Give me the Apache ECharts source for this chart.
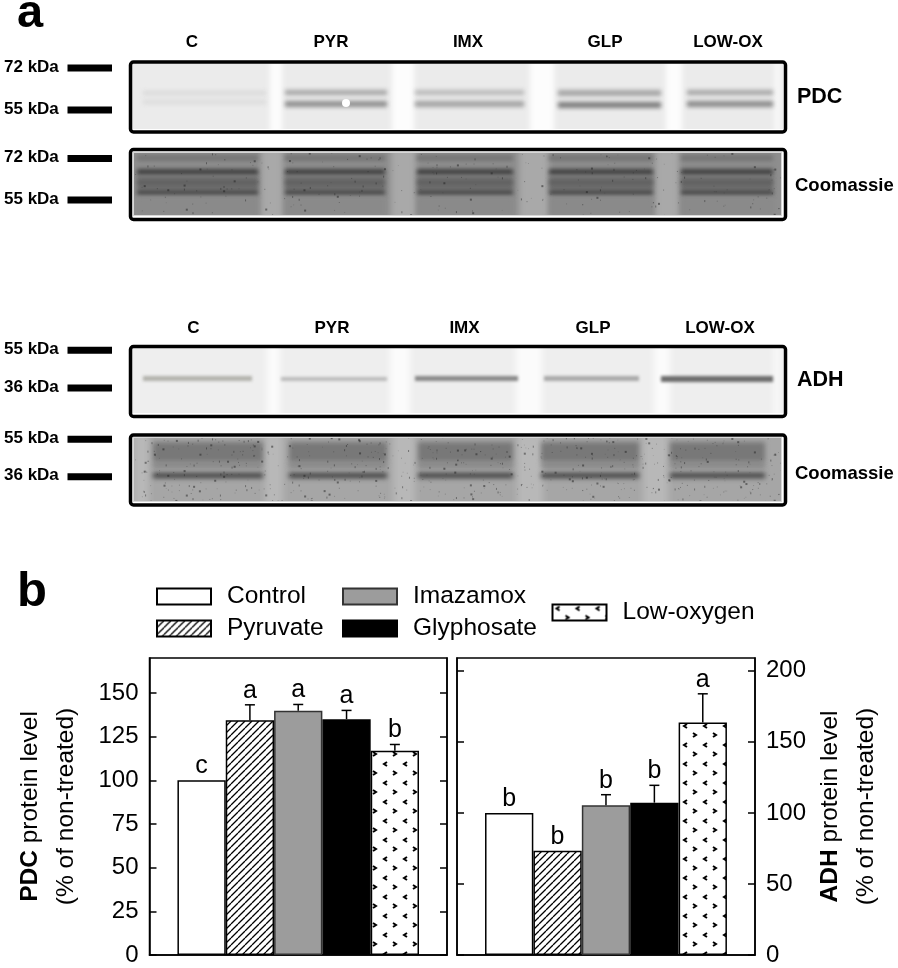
<!DOCTYPE html>
<html><head><meta charset="utf-8">
<style>html,body{margin:0;padding:0;background:#fff}#c{width:898px;height:968px}</style>
<script src="https://cdn.jsdelivr.net/npm/echarts@6/dist/echarts.min.js"></script>
</head><body><div id="c"></div>
<script>
// ---------- data ----------
const treatments = ['Control','Pyruvate','Imazamox','Glyphosate','Low-oxygen'];
const pdcValues = [100,134.3,139.8,135,116.9];
const pdcErrors = [0,8.9,3.6,5,3.6];
const pdcLetters = ['c','a','a','a','b'];
const adhValues = [100,73.3,105.3,107.2,163.6];
const adhErrors = [0,0,7.5,12.2,20.2];
const adhLetters = ['b','b','b','b','a'];
const pdcTicks = [0,25,50,75,100,125,150];
const adhTicks = [0,50,100,150,200];
const laneLabels = ['C','PYR','IMX','GLP','LOW-OX'];

// ---------- fills ----------
function tile(w,h,draw){const c=document.createElement('canvas');c.width=w;c.height=h;const x=c.getContext('2d');x.fillStyle='#fff';x.fillRect(0,0,w,h);draw(x);return c;}
const hatch = tile(7,7,x=>{x.strokeStyle='#000';x.lineWidth=1.3;x.beginPath();
  for(const d of [-7,0,7]){x.moveTo(d,7);x.lineTo(d+7,0);}x.stroke();});
const dots = tile(20,19,x=>{x.strokeStyle='#000';x.lineWidth=2;x.beginPath();
  x.moveTo(7,2);x.lineTo(4,4);x.lineTo(7,6);x.moveTo(13,11);x.lineTo(16,13);x.lineTo(13,15);x.stroke();});
const fills = ['#fff',{image:hatch,repeat:'repeat'},'#9c9c9c','#000',{image:dots,repeat:'repeat'}];
const borders = ['#000','#000','#333','#000','#000'];

// ---------- blots ----------
function hash(i){const s=Math.sin(i*127.1+11.7)*43758.5453;return s-Math.floor(s);}
function blot(w,h,o){
  const c=document.createElement('canvas');c.width=w;c.height=h;const x=c.getContext('2d');
  x.fillStyle=o.bg;x.fillRect(0,0,w,h);
  x.filter='blur(3px)';
  for(const g of o.gaps){x.fillStyle=o.gapColor;x.fillRect(g[0],-8,g[1]-g[0],h+16);}
  x.filter='blur('+(o.blur||2)+'px)';
  for(const l of o.lanes){
    for(const b of l.bands){x.fillStyle=b[2];x.fillRect(l.x[0],b[0],l.x[1]-l.x[0],b[1]);}
  }
  x.filter='none';
  for(let i=0;i<(o.speck||0);i++){
    const px=hash(i)*w,py=hash(i+5000)*h,v=hash(i+9000);
    x.fillStyle='rgba(30,30,30,'+(0.12+v*0.4)+')';
    x.fillRect(px,py,1+(v>0.85?1:0),1+(v>0.7?1:0));
  }
  if(o.edge){x.strokeStyle='#d8d8d8';x.lineWidth=1;x.strokeRect(0.5,0.5,w-1,h-1);}
  if(o.extra)o.extra(x);
  return c;
}
const lanesA=[[11,134],[153,255],[283,392],[426,529],[555,641]];
const blot1=blot(651,65,{bg:'#ebebeb',gapColor:'#fdfdfd',blur:2,
  gaps:[[138,150],[260,282],[398,422],[534,550],[643,648]],
  lanes:[
   {x:lanesA[0],bands:[[27,4,'#d8d8d8'],[36,4,'#dadada']]},
   {x:lanesA[1],bands:[[26,5,'#a4a4a4'],[37,6,'#8e8e8e']]},
   {x:lanesA[2],bands:[[26,5,'#b8b8b8'],[37,6,'#a2a2a2']]},
   {x:lanesA[3],bands:[[26,6,'#a4a4a4'],[38,6,'#7c7c7c']]},
   {x:lanesA[4],bands:[[26,5,'#a4a4a4'],[37,6,'#8a8a8a']]}],
  extra:x=>{x.fillStyle='#fff';x.beginPath();x.arc(214,39,4,0,7);x.fill();}});
const lanesB=[[4,125],[152,252],[284,380],[416,520],[548,640]];
const blot2=blot(649,64,{bg:'#8e8e8e',gapColor:'#a9a9a9',blur:2,speck:260,edge:true,
  gaps:[[128,150],[258,283],[386,416],[522,546]],
  lanes:lanesB.map(l=>({x:l,bands:[[3,6,'#747474'],[17,6,'#404040'],[24,14,'#6e6e6e'],[29,3,'#585858'],[38,5,'#454545'],[45,19,'#8a8a8a']]}))});
const blot3=blot(651,65,{bg:'#eeeeee',gapColor:'#fbfbfb',blur:1.6,
  gaps:[[135,148],[258,278],[384,410],[522,538],[642,648]],
  lanes:[
   {x:[11,120],bands:[[28,5,'#b2b2ac']]},
   {x:[149,255],bands:[[29,4,'#bbbbbb']]},
   {x:[283,386],bands:[[28,5,'#888888']]},
   {x:[412,507],bands:[[28,5,'#a8a8a8']]},
   {x:[529,641],bands:[[28,6,'#6c6c6c']]}]});
const blot4=blot(649,65,{bg:'#a6a6a6',gapColor:'#b8b8b8',blur:2.5,speck:650,edge:true,
  gaps:[[0,16],[132,150],[260,282],[384,410],[510,535]],
  lanes:[[20,130],[156,254],[285,380],[408,506],[537,632]].map(l=>({x:l,bands:[[5,20,'#787878'],[27,3,'#727272'],[36,5,'#3c3c3c']]}))});

// ---------- static figure elements ----------
const font='"Liberation Sans",Arial,sans-serif';
function label(t,x,y,size,align,weight){return {type:'text',silent:true,style:{text:t,x,y,fill:'#000',font:(weight||'bold')+' '+size+'px '+font,textAlign:align||'center',textVerticalAlign:'middle'}};}
function marker(y){return {type:'rect',silent:true,shape:{x:67.5,y:y-3.5,width:44.5,height:7},style:{fill:'#000'}};}
function frame(y,h){return {type:'rect',silent:true,z:5,shape:{x:130.5,y,width:655,height:h,r:3},style:{fill:'none',stroke:'#000',lineWidth:3.5}};}
function image(img,x,y,w,h){return {type:'image',silent:true,style:{image:img,x,y,width:w,height:h}};}
const mw=[];
[[68,'72 kDa'],[110,'55 kDa'],[158.5,'72 kDa'],[200,'55 kDa'],[350.3,'55 kDa'],[388,'36 kDa'],[439.3,'55 kDa'],[476.7,'36 kDa']].forEach(m=>{
  mw.push(marker(m[0]));mw.push(label(m[1],4,m[0]-1,17,'left'));});
const laneXa=[192,331,468,605,728], laneXb=[193.5,332,464.5,593,720];
const graphics=[
  image(blot1,132,64,651,65),image(blot2,133,152,649,64),image(blot3,132,348,651,65),image(blot4,133,437,649,65),
  frame(62,70),frame(149.5,70),frame(346.5,70),frame(435,70),
  ...mw,
  ...laneLabels.map((t,i)=>label(t,laneXa[i],42.5,17)),
  ...laneLabels.map((t,i)=>label(t,laneXb[i],328,17)),
  label('PDC',797,97,21.5,'left'),label('Coomassie',795,186,18.5,'left'),
  label('ADH',797,380.5,21.5,'left'),label('Coomassie',795,474,18.5,'left'),
  label('a',17,14,47,'left'),label('b',17,592,49,'left')
];

// ---------- chart ----------
const chart=echarts.init(document.getElementById('c'),null,{renderer:'canvas'});
const tickStyle={show:true,inside:true,length:7,lineStyle:{color:'#000',width:1.5}};
const lineStyle={show:true,onZero:false,lineStyle:{color:'#000',width:1.5}};
const axisText={fontFamily:font,fontSize:24,color:'#000'};
function xAxis(g){return {gridIndex:g,type:'value',min:-1.078,max:5.079,axisLine:lineStyle,axisTick:{show:false},axisLabel:{show:false},splitLine:{show:false}};}
function yAxis(g,pos,max,ticks,showLabel,name,gap){
  return {gridIndex:g,type:'value',position:pos,min:0,max,
    axisLine:lineStyle,splitLine:{show:false},
    axisTick:Object.assign({customValues:ticks},tickStyle),
    axisLabel:{show:showLabel,customValues:ticks,margin:11,...axisText},
    name:name||'',nameLocation:'middle',nameGap:gap||0,nameRotate:90,
    nameTextStyle:{fontFamily:font,fontSize:24.5,color:'#000',lineHeight:36,
      rich:{b:{fontFamily:font,fontSize:24.5,fontWeight:'bold',lineHeight:36},n:{fontFamily:font,fontSize:24.5,lineHeight:36}}}
  };
}
function bars(vals,xi,yi){
  return treatments.map((t,i)=>({name:t,type:'bar',xAxisIndex:xi,yAxisIndex:yi,barWidth:48.3,barGap:'-100%',silent:true,
    itemStyle:{color:fills[i],borderColor:borders[i],borderWidth:1.5},data:[[i,vals[i]]]}));
}
function errors(vals,errs,letters,xi,yi){
  return {type:'custom',xAxisIndex:xi,yAxisIndex:yi,silent:true,z:10,clip:false,
    data:vals.map((v,i)=>[i,v,v+errs[i]]),
    renderItem:(p,api)=>{
      const i=api.value(0),a=api.coord([i,api.value(1)]),b=api.coord([i,api.value(2)]);
      const ls={stroke:'#000',lineWidth:1.5};
      const children=[{type:'text',style:{text:letters[i],x:a[0],y:b[1]-14,fill:'#000',font:'25px '+font,textAlign:'center',textVerticalAlign:'middle'}}];
      if(b[1]<a[1]){children.push({type:'line',shape:{x1:a[0],y1:a[1],x2:a[0],y2:b[1]},style:ls});
        children.push({type:'line',shape:{x1:a[0]-5,y1:b[1],x2:a[0]+5,y2:b[1]},style:ls});}
      return {type:'group',children};
    }};
}
function legend(names,left,top){
  return {data:names,left,top,orient:'vertical',padding:0,itemWidth:54,itemHeight:16,itemGap:7,icon:'rect',selectedMode:false,
    textStyle:{fontFamily:font,fontSize:24.5,color:'#000',padding:[4,0,0,11]}};
}
const gridBase={top:658,height:297,show:true,borderColor:'#000',borderWidth:1.5,backgroundColor:'transparent',containLabel:false,outerBoundsMode:'none'};
chart.setOption({
  animation:false,backgroundColor:'#fff',tooltip:{show:false},
  legend:[legend(treatments.slice(0,2),156,584),legend(treatments.slice(2,4),342,584),legend(treatments.slice(4),551.5,600)],
  grid:[
    Object.assign({left:149.5,width:297.5},gridBase),
    Object.assign({left:457,width:298},gridBase)],
  xAxis:[xAxis(0),xAxis(1)],
  yAxis:[
    yAxis(0,'left',170,pdcTicks,true,'{b|PDC} {n|protein level}\n{n|(% of non-treated)}',65),
    yAxis(0,'right',170,pdcTicks,false),
    yAxis(1,'left',209,adhTicks,false),
    yAxis(1,'right',209,adhTicks,true,'{b|ADH} {n|protein level}\n{n|(% of non-treated)}',57)],
  series:[...bars(pdcValues,0,0),errors(pdcValues,pdcErrors,pdcLetters,0,0),
          ...bars(adhValues,1,3),errors(adhValues,adhErrors,adhLetters,1,3)],
  graphic:{elements:graphics}
});
</script></body></html>
